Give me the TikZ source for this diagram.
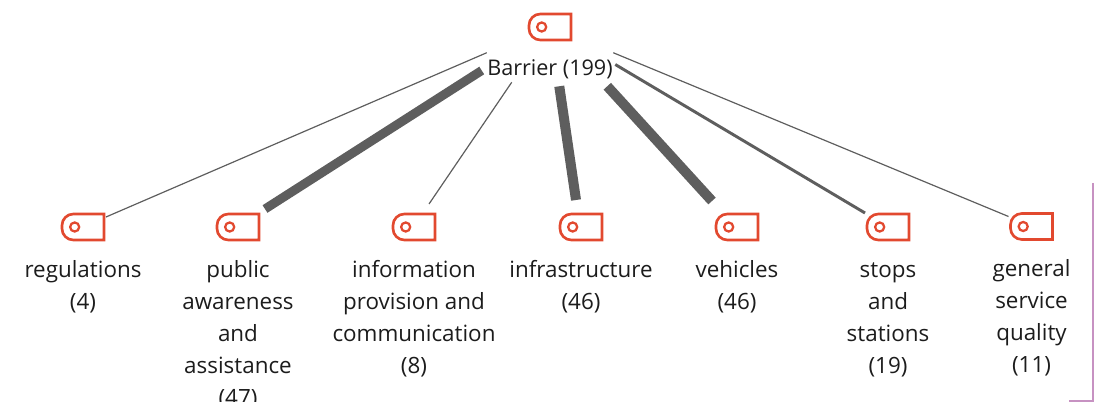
\documentclass[tikz,border=0pt]{standalone}
\usepackage{fontspec}
\setmainfont{Open Sans}
\usetikzlibrary{positioning}

\definecolor{tagred}{HTML}{E2492F}
\definecolor{linkgray}{HTML}{5E5E5E}
\definecolor{framepink}{HTML}{C792C2}
\definecolor{textblack}{HTML}{1C1C1C}

\tikzset{
  tagbox/.style={minimum width=31.5pt, minimum height=19.5pt, inner sep=0pt, outer sep=0pt},
  tagline/.style={draw=tagred, line width=2pt},
  textlabel/.style={font=\fontsize{16.8}{24}\selectfont, text=textblack, align=center, inner sep=0pt},
  link/.style={draw=linkgray, line width=#1}
}

\newcommand{\tagicon}[2]{
  \node[tagbox] (#1) at (#2) {};
  \draw[tagline] (#1.north east) [rounded corners=8.5pt] -- (#1.north west) -- (#1.south west) [sharp corners] -- (#1.south east) -- cycle;
  \draw[tagline, line width=1.7pt] ([xshift=9.5pt]#1.west) circle (3.4pt);
}

\begin{document}
\begin{tikzpicture}[x=0.75pt, y=-0.75pt, node distance=10.75pt]
        \useasboundingbox (0,0) rectangle (1094,402);

        \tagicon{top}{550,27}
        \node[textlabel, font=\fontsize{16.2}{24}\selectfont, minimum width=94.5pt, minimum height=24.75pt] (barrier) at (550,69.5) {\raisebox{-1.5pt}{Barrier (199)}};

        \tagicon{regulations}{83,227}
        \tagicon{public}{238,227}
        \tagicon{information}{414,227}
        \tagicon{infrastructure}{581,227}
        \tagicon{vehicles}{737,227}
        \tagicon{stops}{888,227}
        \tagicon{general}{1031.5,226.5}

        \node[textlabel, below=of regulations] (regulationslabel) {\strut regulations\\(4)};
        \node[textlabel, below=of public] (publiclabel) {\strut public\\awareness\\and\\assistance\\(47)};
        \node[textlabel, below=of information] (informationlabel) {\strut information\\provision and\\communication\\(8)};
        \node[textlabel, below=of infrastructure] (infrastructurelabel) {\strut infrastructure\\(46)};
        \node[textlabel, below=of vehicles] (vehicleslabel) {\strut vehicles\\(46)};
        \node[textlabel, below=of stops] (stopslabel) {\strut stops\\and\\stations\\(19)};
        \node[textlabel, below=of general] (generallabel) {\strut general\\service\\quality\\(11)};

        \draw[link=0.9pt] (barrier.north west) -- ([shift={(2,3)}]regulations.north east);
        \draw[link=6.75pt] ([shift={(-5,1)}]barrier.west) -- ([shift={(6,-5)}]public.north east);
        \draw[link=0.9pt] ([shift={(25,-4)}]barrier.south west) -- ([shift={(15,-10)}]information.north);
        \draw[link=7.5pt] ([shift={(-54,0)}]barrier.south east) -- ([shift={(-5,-14)}]infrastructure.north);
        \draw[link=7.5pt] ([shift={(-6,0)}]barrier.south east) -- ([shift={(-4,-13)}]vehicles.north west);
        \draw[link=2.2pt] ([shift={(2,-5)}]barrier.east) -- ([shift={(-2,-1)}]stops.north west);
        \draw[link=0.9pt] (barrier.north east) -- ([shift={(-2,3)}]general.north west);

        \draw[framepink, line width=1.1pt] (1093,183) -- (1093,401) -- (1069,401);
      \end{tikzpicture}
\end{document}
